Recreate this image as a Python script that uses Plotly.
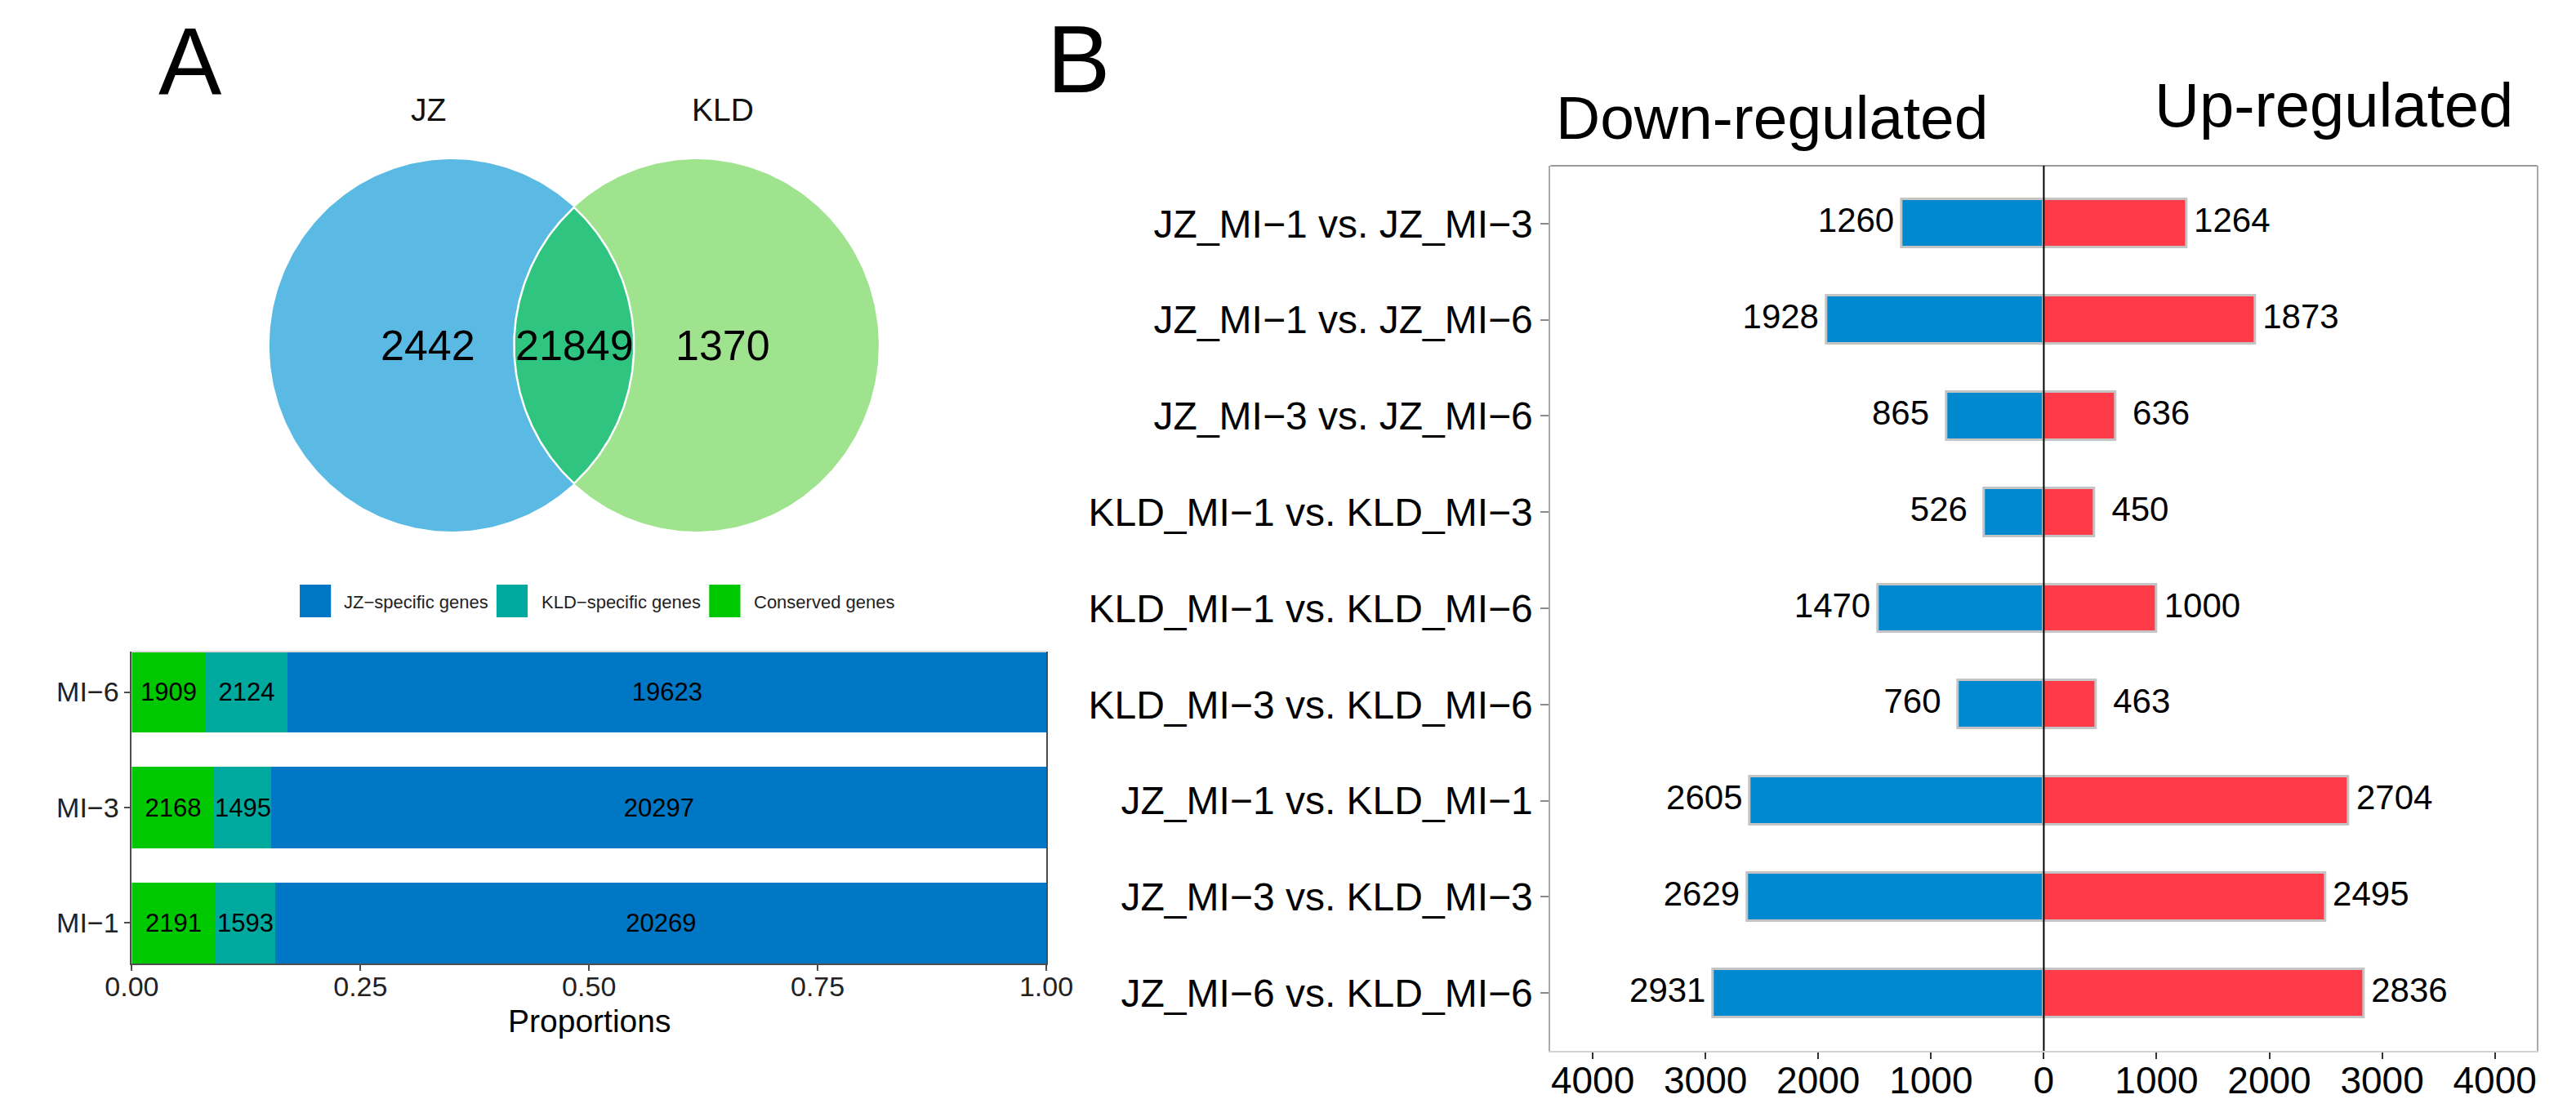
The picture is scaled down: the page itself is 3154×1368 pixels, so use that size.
import numpy as np
import plotly.graph_objects as go

W, H = 3154, 1368
FONT = "Liberation Sans, Arial, sans-serif"

# ---------------- data ----------------
venn_sets = ["JZ", "KLD"]
venn_counts = [2442, 21849, 1370]          # JZ only, shared, KLD only

stages = ["MI−1", "MI−3", "MI−6"]
conserved = [2191, 2168, 1909]
kld_specific = [1593, 1495, 2124]
jz_specific = [20269, 20297, 19623]
legend_names = ["JZ−specific genes", "KLD−specific genes", "Conserved genes"]
prop_ticks = [0, 0.25, 0.5, 0.75, 1.0]
prop_ticktext = ["0.00", "0.25", "0.50", "0.75", "1.00"]

comparisons = [
    "JZ_MI−1 vs. JZ_MI−3", "JZ_MI−1 vs. JZ_MI−6", "JZ_MI−3 vs. JZ_MI−6",
    "KLD_MI−1 vs. KLD_MI−3", "KLD_MI−1 vs. KLD_MI−6", "KLD_MI−3 vs. KLD_MI−6",
    "JZ_MI−1 vs. KLD_MI−1", "JZ_MI−3 vs. KLD_MI−3", "JZ_MI−6 vs. KLD_MI−6",
]
down_regulated = [1260, 1928, 865, 526, 1470, 760, 2605, 2629, 2931]
up_regulated = [1264, 1873, 636, 450, 1000, 463, 2704, 2495, 2836]
deg_ticks = [-4000, -3000, -2000, -1000, 0, 1000, 2000, 3000, 4000]
deg_ticktext = ["4000", "3000", "2000", "1000", "0", "1000", "2000", "3000", "4000"]

# ---------------- colours ----------------
C_JZ, C_KLD, C_CONS = "#0077C4", "#00A99E", "#00C800"
C_DOWN, C_UP = "#0089CE", "#FF3B4A"
V_LEFT, V_RIGHT, V_LENS = "#5BBAE3", "#A0E38F", "#2FC47F"


def px(x):
    return x / W


def py(y):
    return 1 - y / H


fig = go.Figure()

# ---------------- Venn (pixel-space hidden axes x3/y3) ----------------
r = 228
c1 = (523, 415)
c2 = (829, 415)
t = np.linspace(0, 2 * np.pi, 361)
for (cx, cy), col in [(c1, V_LEFT), (c2, V_RIGHT)]:
    fig.add_trace(go.Scatter(x=cx + r * np.cos(t), y=cy + r * np.sin(t), mode="lines",
                             fill="toself", fillcolor=col, line=dict(width=0),
                             xaxis="x3", yaxis="y3", showlegend=False, hoverinfo="skip"))
d = c2[0] - c1[0]
hh = np.sqrt(r ** 2 - (d / 2) ** 2)
phi = np.arctan2(hh, d / 2)
a1 = np.linspace(-phi, phi, 120)                    # right bulge of left circle
a2 = np.linspace(np.pi - phi, np.pi + phi, 120)     # left bulge of right circle
lx = np.concatenate([c1[0] + r * np.cos(a1), c2[0] + r * np.cos(a2)])
ly = np.concatenate([c1[1] + r * np.sin(a1), c2[1] + r * np.sin(a2)])
lx = np.append(lx, lx[0]); ly = np.append(ly, ly[0])
fig.add_trace(go.Scatter(x=lx, y=ly, mode="lines", fill="toself", fillcolor=V_LENS,
                         line=dict(color="white", width=2.5), xaxis="x3", yaxis="y3",
                         showlegend=False, hoverinfo="skip"))

# ---------------- Panel A stacked proportion bars ----------------
totals = [a + b + c for a, b, c in zip(conserved, kld_specific, jz_specific)]
for vals, col in [(conserved, C_CONS), (kld_specific, C_KLD), (jz_specific, C_JZ)]:
    fig.add_trace(go.Bar(
        y=stages, x=[v / tt for v, tt in zip(vals, totals)], orientation="h",
        marker=dict(color=col, line=dict(width=0)), width=0.7,
        text=[str(v) for v in vals], textposition="inside", insidetextanchor="middle",
        textangle=0, constraintext="none",
        textfont=dict(family=FONT, size=31, color="black"),
        xaxis="x", yaxis="y", showlegend=False, hoverinfo="skip"))

# ---------------- Panel B up/down bars ----------------
fig.add_trace(go.Bar(y=comparisons, x=[-v for v in down_regulated], orientation="h",
                     marker=dict(color=C_DOWN, line=dict(color="#c4c4c4", width=3)), width=0.5,
                     xaxis="x2", yaxis="y2", showlegend=False, hoverinfo="skip"))
fig.add_trace(go.Bar(y=comparisons, x=up_regulated, orientation="h",
                     marker=dict(color=C_UP, line=dict(color="#c4c4c4", width=3)), width=0.5,
                     xaxis="x2", yaxis="y2", showlegend=False, hoverinfo="skip"))
OFF = 405
fig.add_trace(go.Scatter(y=comparisons, x=[-v - OFF for v in down_regulated], mode="text",
                         text=[str(v) for v in down_regulated], textposition="middle center",
                         textfont=dict(family=FONT, size=42, color="black"),
                         xaxis="x2", yaxis="y2", showlegend=False, hoverinfo="skip", cliponaxis=False))
fig.add_trace(go.Scatter(y=comparisons, x=[v + OFF for v in up_regulated], mode="text",
                         text=[str(v) for v in up_regulated], textposition="middle center",
                         textfont=dict(family=FONT, size=42, color="black"),
                         xaxis="x2", yaxis="y2", showlegend=False, hoverinfo="skip", cliponaxis=False))

# ---------------- annotations ----------------
ann = []
ann.append(dict(text="A", x=px(196), y=py(68), xref="paper", yref="paper", showarrow=False,
                xanchor="center", yanchor="middle", font=dict(family=FONT, size=116, color="black")))
ann.append(dict(text="B", x=px(1307), y=py(65), xref="paper", yref="paper", showarrow=False,
                xanchor="center", yanchor="middle", font=dict(family=FONT, size=116, color="black")))
for name, (x, y) in zip(venn_sets, [(494, 126), (862, 126)]):
    ann.append(dict(text=name, x=x, y=y, xref="x3", yref="y3", showarrow=False,
                    font=dict(family=FONT, size=39, color="#111")))
for val, x in zip(venn_counts, [493, 677, 862]):
    ann.append(dict(text=str(val), x=x, y=415, xref="x3", yref="y3", showarrow=False,
                    font=dict(family=FONT, size=52, color="black")))
ann.append(dict(text="Down-regulated", x=px(1902), y=py(136.5), xref="paper", yref="paper",
                showarrow=False, xanchor="left", yanchor="middle",
                font=dict(family=FONT, size=75, color="black")))
ann.append(dict(text="Up-regulated", x=px(3103), y=py(120), xref="paper", yref="paper",
                showarrow=False, xanchor="right", yanchor="middle",
                font=dict(family=FONT, size=76, color="black")))
# x-axis title of panel A
ann.append(dict(text="Proportions", x=px(695), y=py(1242), xref="paper", yref="paper",
                showarrow=False, xanchor="center", yanchor="middle",
                font=dict(family=FONT, size=39, color="black")))

# manual legend for panel A
shapes = []
leg_sw = [333, 579, 845]
leg_tx = [386, 633, 899]
for name, col, sx, tx in zip(legend_names, [C_JZ, C_KLD, C_CONS], leg_sw, leg_tx):
    shapes.append(dict(type="rect", xref="paper", yref="paper", x0=px(sx), x1=px(sx + 39),
                       y0=py(748), y1=py(708), fillcolor=col, line=dict(width=0)))
    ann.append(dict(text=name, x=px(tx), y=py(729), xref="paper", yref="paper", showarrow=False,
                    xanchor="left", yanchor="middle", font=dict(family=FONT, size=22, color="#222")))

# panel A top border (light)
shapes.append(dict(type="line", xref="paper", yref="paper", x0=px(123), x1=px(1266.5),
                   y0=py(790), y1=py(790), line=dict(color="#dddddd", width=2)))
# panel B top border and zero line
shapes.append(dict(type="line", xref="paper", yref="paper", x0=px(1897), x1=px(3131),
                   y0=py(195), y1=py(195), line=dict(color="#999999", width=2)))
shapes.append(dict(type="line", xref="x2", yref="paper", x0=0, x1=0,
                   y0=py(1279), y1=py(195), line=dict(color="black", width=2), layer="above"))

fig.update_layout(
    width=W, height=H, autosize=False, margin=dict(l=0, r=0, t=0, b=0),
    paper_bgcolor="white", plot_bgcolor="rgba(0,0,0,0)",
    barmode="relative", bargap=0, showlegend=False,
    font=dict(family=FONT, color="black"),
    annotations=ann, shapes=shapes,
    xaxis=dict(domain=[px(123), px(1266.5)], range=[0, 1], tickvals=prop_ticks, ticktext=prop_ticktext,
               ticks="outside", ticklen=7, tickwidth=2, tickcolor="#4d4d4d",
               showline=True, linecolor="#4d4d4d", linewidth=2, showgrid=False, zeroline=False,
               tickfont=dict(family=FONT, size=34, color="#222"), ticklabelstandoff=-10,
               anchor="y", fixedrange=True),
    yaxis=dict(domain=[py(1172), py(790)], type="category", categoryarray=stages,
               categoryorder="array", range=[-0.35, 2.35],
               ticks="outside", ticklen=7, tickwidth=2, tickcolor="#4d4d4d",
               showline=True, mirror=True, linecolor="#4d4d4d", linewidth=2, showgrid=False,
               zeroline=False, tickfont=dict(family=FONT, size=34, color="#222"),
               anchor="x", fixedrange=True),
    xaxis2=dict(domain=[px(1897), px(3131)], range=[-4375, 4375], tickvals=deg_ticks,
                ticktext=deg_ticktext, ticks="outside", ticklen=8, tickwidth=2, tickcolor="#333",
                showline=True, linecolor="#d3d3d3", linewidth=2, showgrid=False, zeroline=False,
                tickfont=dict(family=FONT, size=46, color="black"), ticklabelstandoff=-13,
                anchor="y2", fixedrange=True),
    yaxis2=dict(domain=[py(1279), py(195)], type="category", categoryarray=comparisons,
                categoryorder="array", range=[8.6, -0.6],
                ticks="outside", ticklen=10, tickwidth=2, tickcolor="#8a8a8a",
                showline=True, mirror=True, linecolor="#aaaaaa", linewidth=2, showgrid=False,
                zeroline=False, tickfont=dict(family=FONT, size=48, color="black"),
                anchor="x2", fixedrange=True),
    xaxis3=dict(domain=[0, 1], range=[0, W], visible=False, fixedrange=True, anchor="y3"),
    yaxis3=dict(domain=[0, 1], range=[H, 0], visible=False, fixedrange=True, anchor="x3"),
)

fig.write_html("out.html")
